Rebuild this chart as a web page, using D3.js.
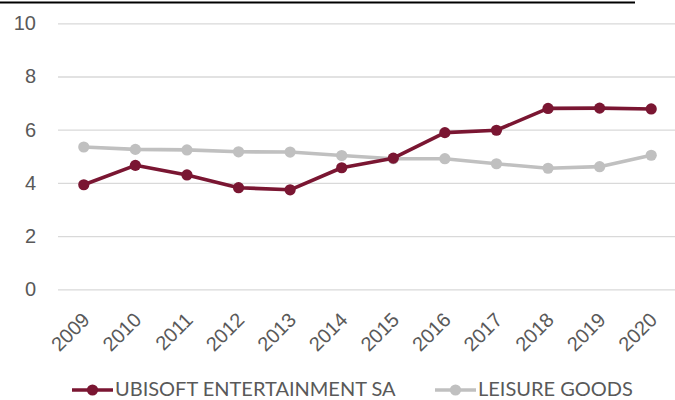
<!DOCTYPE html>
<html>
<head>
<meta charset="utf-8">
<script src="https://cdn.jsdelivr.net/npm/d3@7"></script>
<style>
  body { margin: 0; background: #fff; }
  svg { display: block; font-family: Lato, "Open Sans", sans-serif; }
</style>
</head>
<body>
<svg id="chart" width="675" height="400"></svg>
<script>
let years = ["2009", "2010", "2011", "2012", "2013", "2014", "2015", "2016", "2017", "2018", "2019", "2020"];
let ubisoft = [3.93, 4.66, 4.30, 3.82, 3.74, 4.57, 4.93, 5.89, 5.98, 6.80, 6.81, 6.78];
let leisure = [5.35, 5.26, 5.24, 5.17, 5.16, 5.03, 4.91, 4.91, 4.72, 4.55, 4.61, 5.04];
let yTicks = [0, 2, 4, 6, 8, 10];
let seriesNames = ["UBISOFT ENTERTAINMENT SA", "LEISURE GOODS"];
let seriesColors = ["#7a1632", "#c0c0c0"];

let svg = d3.select("#chart");

// scales
let xScale = d3.scaleBand()
  .domain(years)
  .range([58, 677]);

let yScale = d3.scaleLinear()
  .domain([0, 10])
  .range([289.3, 23.3]);

// thick line at the very top
svg.append("line")
  .attr("x1", 0).attr("x2", 635)
  .attr("y1", 2.5).attr("y2", 2.5)
  .attr("stroke", "#000")
  .attr("stroke-width", 2);

// y axis + gridlines
let yAxis = d3.axisLeft(yScale)
  .tickValues(yTicks)
  .tickSize(-(677 - 58))
  .tickPadding(22);

let gy = svg.append("g")
  .attr("transform", "translate(58,0)")
  .call(yAxis);
gy.select(".domain").remove();
gy.selectAll(".tick line")
  .attr("stroke", "#d9d9d9")
  .attr("stroke-width", 1.3);
gy.selectAll(".tick text")
  .attr("fill", "#595959")
  .style("font-size", "20px");

// x axis labels, rotated
let xAxis = d3.axisBottom(xScale).tickSize(0);
let gx = svg.append("g")
  .attr("transform", "translate(0,300)")
  .call(xAxis);
gx.select(".domain").remove();
gx.selectAll(".tick text")
  .attr("fill", "#595959")
  .style("font-size", "20px")
  .style("text-anchor", "end")
  .attr("dy", 0)
  .attr("transform", "translate(5,19) rotate(-45)");

// lines
let line = d3.line()
  .x((d, i) => xScale(years[i]) + xScale.bandwidth() / 2)
  .y(d => yScale(d));

[leisure, ubisoft].forEach(function (vals, k) {
  let color = k === 0 ? seriesColors[1] : seriesColors[0];
  svg.append("path")
    .datum(vals)
    .attr("fill", "none")
    .attr("stroke", color)
    .attr("stroke-width", 3.6)
    .attr("stroke-linejoin", "round")
    .attr("d", line);
  svg.selectAll(".pt" + k)
    .data(vals)
    .enter()
    .append("circle")
    .attr("cx", (d, i) => xScale(years[i]) + xScale.bandwidth() / 2)
    .attr("cy", d => yScale(d))
    .attr("r", 5.6)
    .attr("fill", color);
});

// legend
let legendX = [72, 435];
let legend = svg.selectAll(".legend")
  .data(seriesNames)
  .enter()
  .append("g")
  .attr("transform", (d, i) => "translate(" + legendX[i] + ",390)");

legend.append("line")
  .attr("x1", 0).attr("x2", 41)
  .attr("stroke", (d, i) => seriesColors[i])
  .attr("stroke-width", 3.6);
legend.append("circle")
  .attr("cx", 20.5)
  .attr("r", 5.6)
  .attr("fill", (d, i) => seriesColors[i]);
legend.append("text")
  .attr("x", 43)
  .attr("y", 6)
  .attr("fill", "#595959")
  .style("font-size", "20px")
  .text(d => d);
</script>
</body>
</html>
